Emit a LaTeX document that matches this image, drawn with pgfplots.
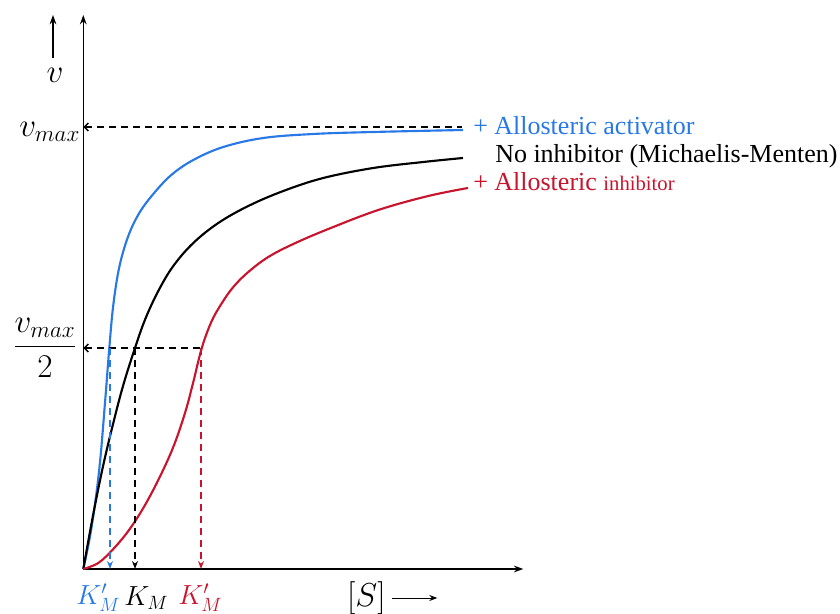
\documentclass[border=0pt]{standalone}
\usepackage{pgfplots}
\pgfplotsset{compat=1.18}
\usetikzlibrary{arrows.meta}
\usepackage{fontspec}
\setmainfont{Liberation Serif}
\definecolor{myblue}{RGB}{40,120,230}
\definecolor{myred}{RGB}{200,20,45}
\begin{document}
\begin{tikzpicture}
\useasboundingbox (0,0) rectangle (630pt,460.5pt);
\begin{axis}[at={(62.475pt,33.75pt)}, anchor=origin, x=0.75pt, y=0.75pt,
  xmin=0, xmax=440, ymin=0, ymax=554, enlargelimits=false,
  axis lines=left, xtick=\empty, ytick=\empty,
  axis line style={line width=1.2pt, -{Stealth[length=7pt,width=5pt]}},
  clip=false]
% curves
\addplot[myblue, line width=1.6pt, smooth, tension=0.6] coordinates {
 (0,0) (8,40) (16,100) (22,170) (26,221) (30,264) (36,302) (45,333)
 (56,356) (70,375) (88,394) (110,409) (140,422) (180,431)
 (230,435) (290,437) (379.7,439)};
\addplot[black, line width=1.6pt, smooth, tension=0.6] coordinates {
 (0,0) (10,55) (20,104) (30,146) (40,184) (51.7,221) (62,250) (75,278)
 (90,303) (110,326) (135,346) (165,363) (200,378) (240,391)
 (290,401) (340,407) (379.7,411)};
\addplot[myred, line width=1.6pt, smooth, tension=0.6] coordinates {
 (0,0) (15,6) (30,20) (45,38) (60,61) (75,89) (90,122) (102,157)
 (110,187) (118.5,221) (128,247) (138,265) (150,282) (165,297) (185,312)
 (210,325) (245,340) (295,359) (345,373) (384.7,381)};
% guide lines
\addplot[black, line width=1.1pt, dash pattern=on 5.5pt off 3.5pt,
  {Straight Barb[length=3pt,width=6pt]}-] coordinates {(0,442) (379,442)};
\addplot[black, line width=1.1pt, dash pattern=on 5.5pt off 3.5pt,
  {Straight Barb[length=3pt,width=6pt]}-] coordinates {(0,221) (118.5,221)};
\addplot[myblue, line width=1.1pt, dash pattern=on 5.5pt off 3.5pt,
  -{Stealth[length=6pt,width=4.5pt]}] coordinates {(26.7,221) (26.7,0)};
\addplot[black, line width=1.1pt, dash pattern=on 5.5pt off 3.5pt,
  -{Stealth[length=6pt,width=4.5pt]}] coordinates {(51.7,221) (51.7,0)};
\addplot[myred, line width=1.1pt, dash pattern=on 5.5pt off 3.5pt,
  -{Stealth[length=6pt,width=4.5pt]}] coordinates {(117.7,221) (117.7,0)};
% extra arrows
\addplot[black, line width=1.2pt, -{Stealth[length=7pt,width=5pt]}] coordinates {(-30.3,511) (-30.3,554)};
\addplot[black, line width=0.7pt, -{Stealth[length=6pt,width=4.5pt]}] coordinates {(309,-29) (354,-29)};
% labels
\node[font=\fontsize{25}{30}\selectfont] at (axis cs:-28.3,494) {$v$};
\node[anchor=east, inner sep=0pt, font=\fontsize{25}{30}\selectfont] at (axis cs:-3,437) {$v_{max}$};
\node[font=\fontsize{25}{30}\selectfont] at (axis cs:-38.3,221) {$\displaystyle\frac{v_{max}}{2}$};
\node[font=\fontsize{20}{24}\selectfont, text=myblue] at (axis cs:15,-29) {$K'_M$};
\node[font=\fontsize{20}{24}\selectfont] at (axis cs:63,-29) {$K_M$};
\node[font=\fontsize{20}{24}\selectfont, text=myred] at (axis cs:117,-29) {$K'_M$};
\node[font=\fontsize{25}{30}\selectfont] at (axis cs:283,-29) {$[S]$};
\node[anchor=base west, inner sep=0pt, text=myblue, font=\fontsize{19.5}{23}\selectfont] at (axis cs:389.7,434) {+ Allosteric activator};
\node[anchor=base west, inner sep=0pt, font=\fontsize{19.5}{23}\selectfont] at (axis cs:411.7,406) {No inhibitor (Michaelis-Menten)};
\node[anchor=base west, inner sep=0pt, text=myred, font=\fontsize{19.5}{23}\selectfont] at (axis cs:389.7,378) {+ Allosteric {\fontsize{15.5}{18}\selectfont inhibitor}};
\end{axis}
\end{tikzpicture}
\end{document}
